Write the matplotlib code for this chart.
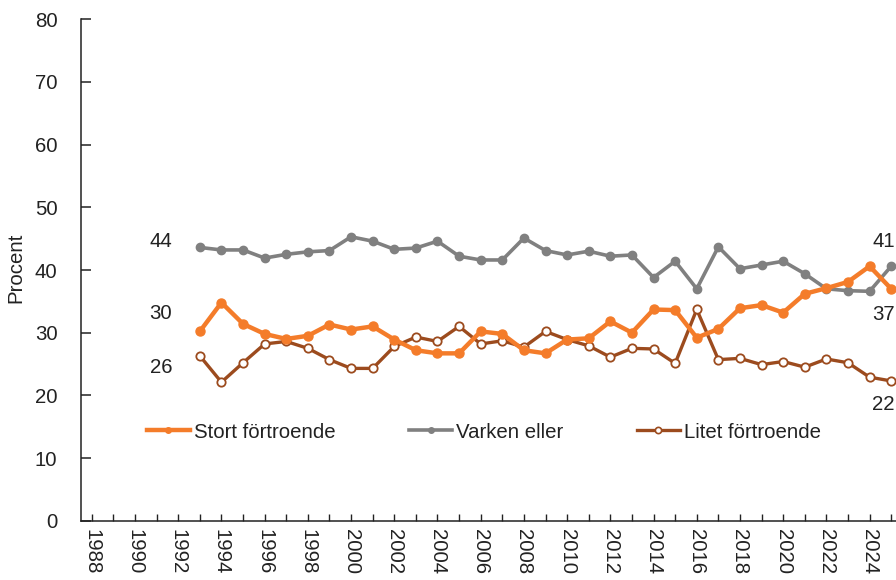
import matplotlib
matplotlib.use("Agg")
import matplotlib.pyplot as plt
from matplotlib.lines import Line2D

plt.rcParams['font.family'] = ['Liberation Sans', 'DejaVu Sans']

years = list(range(1993, 2026))
stort = [30.2, 34.8, 31.4, 29.8, 29.0, 29.5, 31.3, 30.5, 31.0, 28.9, 27.2, 26.7, 26.7, 30.2, 29.8,
         27.2, 26.7, 28.9, 29.1, 31.8, 30.0, 33.7, 33.6, 29.2, 30.6, 33.9, 34.4, 33.2, 36.2, 37.1,
         38.1, 40.6, 37.0]
varken = [43.6, 43.2, 43.2, 41.9, 42.5, 42.9, 43.1, 45.3, 44.6, 43.3, 43.5, 44.6, 42.2, 41.6, 41.6,
          45.1, 43.1, 42.4, 43.0, 42.2, 42.4, 38.8, 41.4, 37.0, 43.7, 40.2, 40.8, 41.4, 39.4, 37.0,
          36.7, 36.6, 40.6]
litet = [26.3, 22.1, 25.2, 28.2, 28.6, 27.5, 25.7, 24.3, 24.3, 27.8, 29.3, 28.6, 31.0, 28.2, 28.7,
         27.7, 30.2, 28.9, 27.9, 26.1, 27.5, 27.4, 25.1, 33.7, 25.7, 25.9, 24.9, 25.4, 24.5, 25.8,
         25.2, 22.9, 22.3]
series_names = ["Stort förtroende", "Varken eller", "Litet förtroende"]
tick_years = list(range(1988, 2026))
y_ticks = [0, 10, 20, 30, 40, 50, 60, 70, 80]

c_orange = "#F47C2A"
c_grey = "#808080"
c_brown = "#9C4B1E"
FS = 14.7

W, H = 896, 580
fig = plt.figure(figsize=(W / 100, H / 100), dpi=100)
ax = fig.add_axes([81 / W, 1 - 520.7 / H, 821 / W, 501.4 / H])

ax.plot(years, varken, color=c_grey, lw=2.6, marker='o', ms=6, mfc=c_grey, mec=c_grey, zorder=3)
ax.plot(years, litet, color=c_brown, lw=2.4, marker='o', ms=6, mfc='white', mec=c_brown, mew=1.3, zorder=4)
ax.plot(years, stort, color=c_orange, lw=3.2, marker='o', ms=6.5, mfc=c_orange, mec=c_orange, zorder=5)

ax.set_xlim(1987.5, 2025.5)
ax.set_ylim(0, 80)
ax.set_yticks(y_ticks)
ax.set_xticks(tick_years)
ax.set_xticklabels([str(y) if y % 2 == 0 else "" for y in tick_years], rotation=-90, va='top', ha='center')

for s in ['top', 'right']:
    ax.spines[s].set_visible(False)
for s in ['left', 'bottom']:
    ax.spines[s].set_color('#222222')
    ax.spines[s].set_linewidth(1.1)

ax.tick_params(axis='y', direction='in', length=7, width=1.1, colors='#222222', labelsize=FS, pad=17, labelcolor='#222222')
ax.tick_params(axis='x', direction='in', length=5, width=1.0, colors='#222222', labelsize=FS, pad=6, labelcolor='#222222')
fig.text(16 / W, 1 - 268 / H, "Procent", fontsize=FS, color='#222222', rotation=90, ha='center', va='center')

def lbl(x, y, t):
    ax.text(x, y, t, fontsize=FS, color='#222222', ha='center', va='center', clip_on=False)

lbl(1991.2, 44.6, "44")
lbl(1991.2, 33.0, "30")
lbl(1991.2, 24.5, "26")
lbl(2024.65, 44.6, "41")
lbl(2024.65, 32.9, "37")
lbl(2024.65, 18.6, "22")

handles = [
    Line2D([], [], color=c_orange, lw=3.2, marker='o', ms=4, mfc=c_orange, mec=c_orange),
    Line2D([], [], color=c_grey, lw=2.6, marker='o', ms=4, mfc=c_grey, mec=c_grey),
    Line2D([], [], color=c_brown, lw=2.4, marker='o', ms=4.5, mfc='white', mec=c_brown, mew=1.2),
]
fig.legend(handles, series_names, loc='center left', bbox_to_anchor=(147 / W, 1 - 432 / H),
           ncol=3, frameon=False, fontsize=FS, handlelength=2.1, handletextpad=0.2,
           columnspacing=3.6, borderaxespad=0, borderpad=0, labelcolor='#222222')

fig.savefig("out.png", dpi=100)
